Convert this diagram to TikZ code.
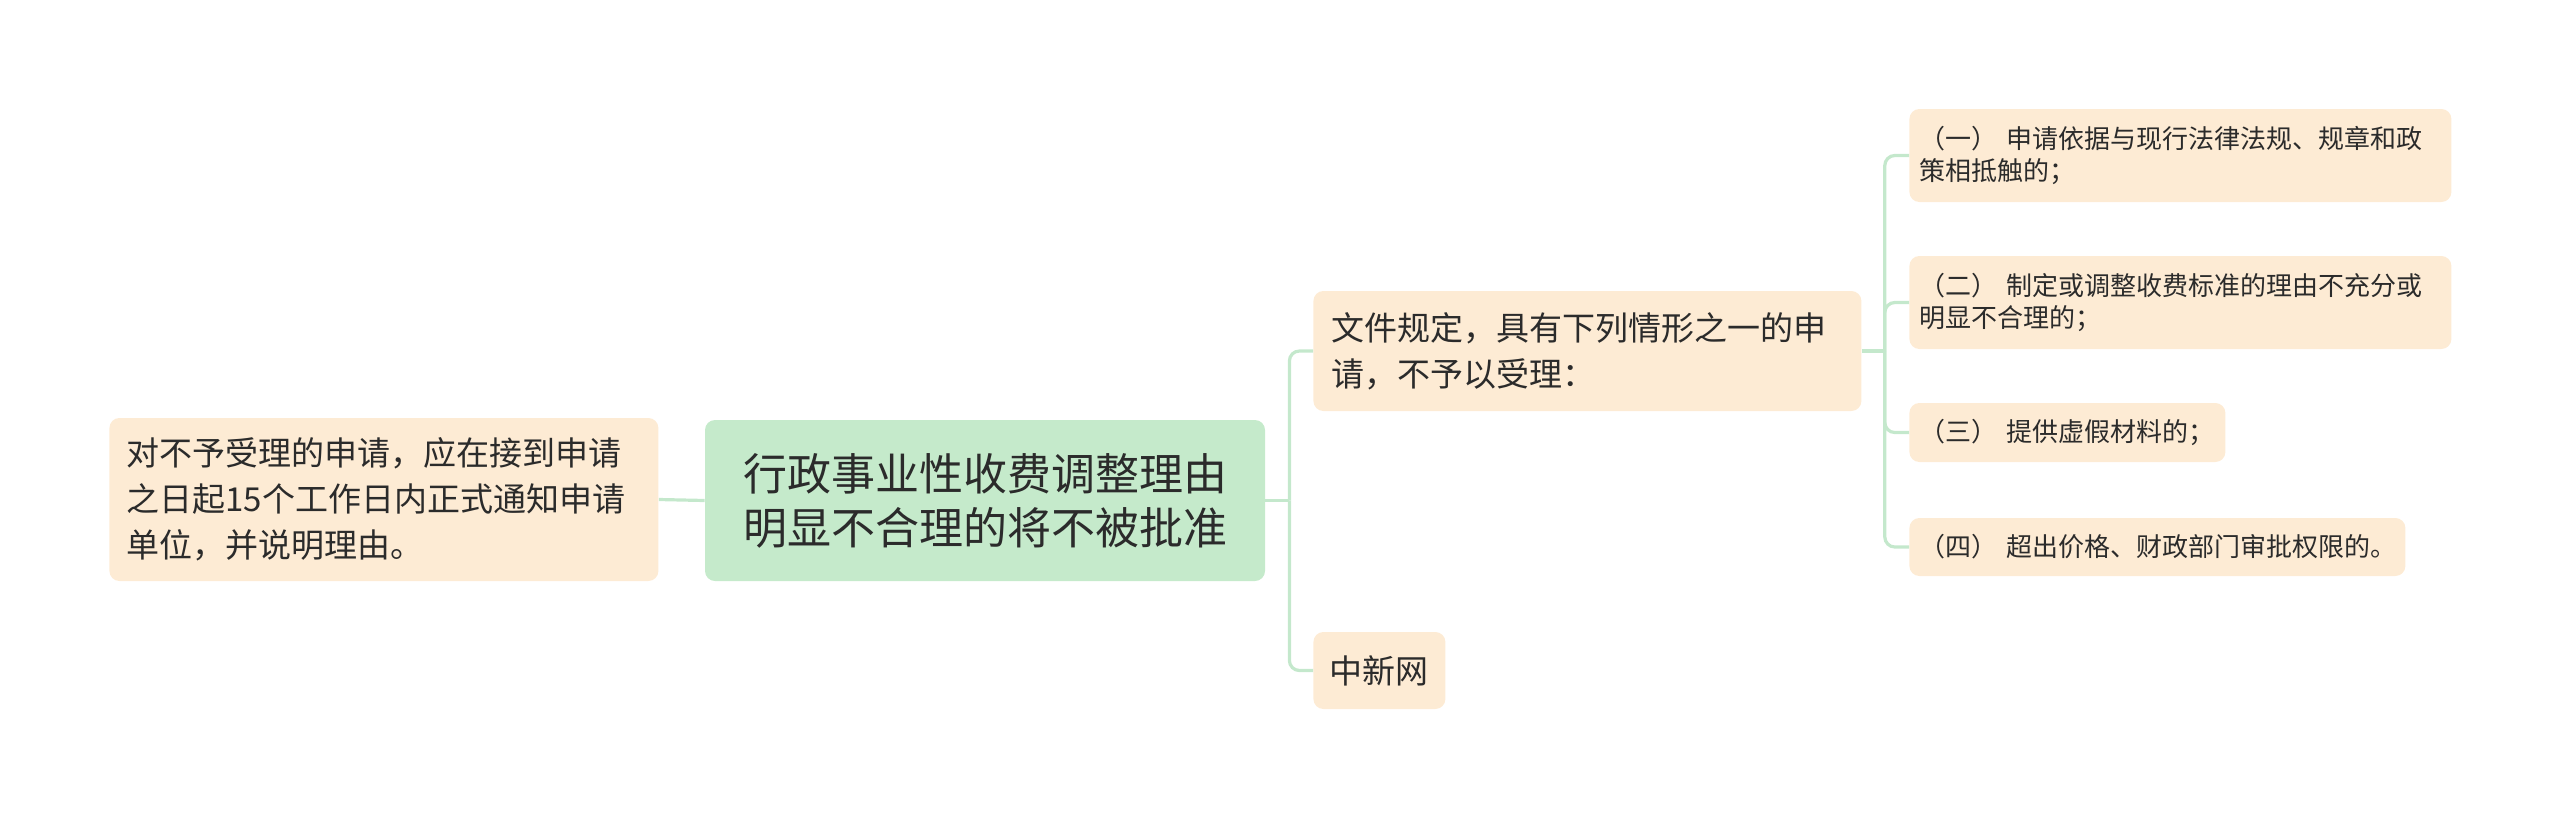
\documentclass[tikz,border=0pt]{standalone}
\usepackage{fontspec}
\setmainfont{Noto Sans CJK SC}
\definecolor{peach}{HTML}{FDEBD4}
\definecolor{mint}{HTML}{C5EACB}
\definecolor{linec}{HTML}{C4E8CC}
\definecolor{txt}{HTML}{2B2B2B}
\begin{document}
\begin{tikzpicture}[x=0.5pt,y=-0.5pt,
  box/.style={fill=peach, rounded corners=5pt, text=txt, align=left, anchor=west, inner ysep=0pt},
  bigf/.style={font=\fontsize{16.5pt}{23pt}\selectfont},
  smallf/.style={font=\fontsize{13pt}{16pt}\selectfont},
  conn/.style={draw=linec, line width=1.6pt, rounded corners=5pt}]
\useasboundingbox (0,0) rectangle (2560,820);
% root
\node[fill=mint, rounded corners=5pt, text=txt, align=center, inner sep=0pt,
  minimum width=280pt, minimum height=80.5pt, text width=280pt,
  font=\fontsize{22pt}{27pt}\selectfont] (root) at (985,500.5)
  {行政事业性收费调整理由\\明显不合理的将不被批准};
% left
\node[box, bigf, inner xsep=8.5pt, text width=257.5pt, minimum height=81.5pt] (left) at (109,499.5)
  {对不予受理的申请，应在接到申请\\之日起15个工作日内正式通知申请\\单位，并说明理由。};
% level 2
\node[box, bigf, inner xsep=9pt, text width=256pt, minimum height=60pt] (doc) at (1313,351)
  {文件规定，具有下列情形之一的申\\请，不予以受理：};
\node[box, bigf, inner xsep=8.25pt, text width=49.5pt, minimum height=38.5pt] (src) at (1313,670.5)
  {中新网};
% level 3
\node[box, smallf, inner xsep=5pt, text width=261pt, minimum height=46.5pt] (r1) at (1909,155.5)
  {（一）~申请依据与现行法律法规、规章和政\\策相抵触的；};
\node[box, smallf, inner xsep=5pt, text width=261pt, minimum height=46.5pt] (r2) at (1909,302.5)
  {（二）~制定或调整收费标准的理由不充分或\\明显不合理的；};
\node[box, smallf, inner xsep=5pt, text width=148pt, minimum height=29.5pt] (r3) at (1909,432.5)
  {（三）~提供虚假材料的；};
\node[box, smallf, inner xsep=5pt, text width=238pt, minimum height=29pt] (r4) at (1909,547)
  {（四）~超出价格、财政部门审批权限的。};
% connectors
\draw[conn] (left.east) -- (root.west);
\coordinate (t1) at ([xshift=12pt]root.east);
\draw[conn] (root.east) -- (t1);
\draw[conn] (t1) |- (doc.west);
\draw[conn] (t1) |- (src.west);
\coordinate (t2) at ([xshift=11.5pt]doc.east);
\draw[conn] (doc.east) -- (t2);
\draw[conn] (t2) |- (r1.west);
\draw[conn] (t2) |- (r2.west);
\draw[conn] (t2) |- (r3.west);
\draw[conn] (t2) |- (r4.west);
\end{tikzpicture}
\end{document}
